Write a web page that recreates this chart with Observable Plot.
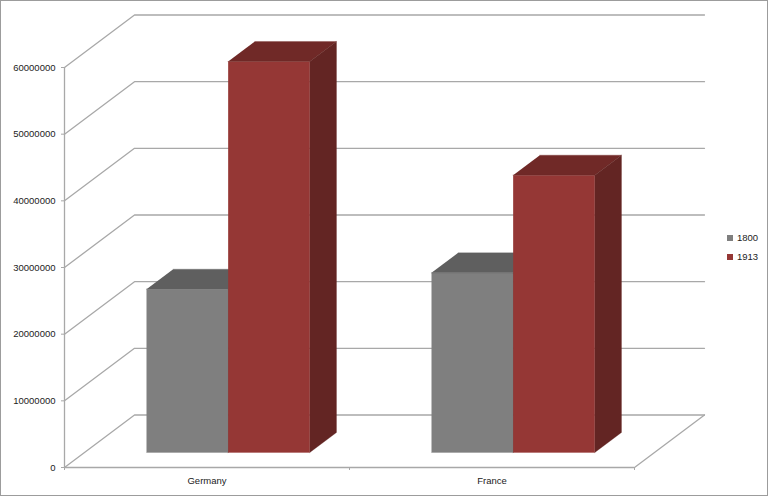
<!DOCTYPE html>
<html>
<head>
<meta charset="utf-8">
<script src="https://cdn.jsdelivr.net/npm/d3@7"></script>
<script src="https://cdn.jsdelivr.net/npm/@observablehq/plot@0.6"></script>
<style>
  html, body { margin: 0; padding: 0; background: #fff; }
  #wrap { position: relative; width: 768px; height: 496px; overflow: hidden; }
  #wrap svg { display: block; position: absolute; left: 0; top: 0; }
  #border { position: absolute; inset: 0; border: 1px solid #9c9c9c; border-left-width: 1.5px; box-sizing: border-box; pointer-events: none; }
  #legend { position: absolute; left: 727px; top: 228px; font: 9.5px "Liberation Sans", sans-serif; color: #222; }
  #legend div { display: flex; align-items: center; height: 19px; line-height: 14px; }
  #legend i { display: inline-block; width: 6px; height: 6px; margin-right: 4px; }
</style>
</head>
<body>
<div id="wrap"><div id="border"></div><div id="legend"></div></div>
<script>
const categories = ["Germany", "France"];
const seriesNames = ["1800", "1913"];
const values1800 = [24500000, 26950000];
const values1913 = [58650000, 41600000];
const yTicks = [0, 10000000, 20000000, 30000000, 40000000, 50000000, 60000000];
const frontColors = ["#7f7f7f", "#953735"];
const topColors = ["#5f5f5f", "#702927"];
const sideColors = ["#4f4f4f", "#632523"];

// oblique projection, expressed in data units of the two scales
const depthX = 0.2456, depthY = 7875000;
const project = (u, v, d) => ({x: u + d * depthX, y: v + d * depthY});
const gapFrac = 0.2175, barFrac = 0.2865, depthFront = 0.286, depthBack = 0.667;

const walls = [];
yTicks.forEach((t, i) => {
  walls.push({k: "w" + i, ...project(0, t, 0)}, {k: "w" + i, ...project(0, t, 1)}, {k: "w" + i, ...project(2, t, 1)});
});
walls.push({k: "f", ...project(2, 0, 0)}, {k: "f", ...project(2, 0, 1)});

const polys = [];
let pid = 0;
const addPoly = (pts, fill) => { const k = pid++; pts.forEach(p => polys.push({k, fill, ...p})); };
[values1800, values1913].forEach((vals, s) => {
  vals.forEach((v, c) => {
    const u0 = c + gapFrac + s * barFrac, u1 = u0 + barFrac;
    const a = depthFront, b = depthBack;
    addPoly([project(u0, 0, a), project(u1, 0, a), project(u1, v, a), project(u0, v, a)], frontColors[s]);
    addPoly([project(u0, v, a), project(u1, v, a), project(u1, v, b), project(u0, v, b)], topColors[s]);
    addPoly([project(u1, 0, a), project(u1, 0, b), project(u1, v, b), project(u1, v, a)], sideColors[s]);
  });
});

const gridColor = "#a8a8a8";
const font = "Liberation Sans";
const chart = Plot.plot({
  width: 768, height: 496,
  marginLeft: 64, marginRight: 134, marginTop: 67, marginBottom: 29,
  style: {background: "transparent", fontFamily: font, fontSize: "9.5px", color: "#222", overflow: "visible"},
  x: {domain: [0, 2]},
  y: {domain: [0, 60000000]},
  marks: [
    Plot.line(walls, {x: "x", y: "y", z: "k", stroke: gridColor, strokeWidth: 1.3}),
    Plot.ruleX([0], {y1: 0, y2: 60000000, stroke: gridColor, strokeWidth: 1.3}),
    Plot.ruleY([0], {x1: 0, x2: 2, stroke: gridColor, strokeWidth: 1.3}),
    Plot.axisY({ticks: yTicks, tickFormat: d => String(d), tickSize: 3, tickPadding: 6, stroke: gridColor, label: null, fontSize: 9.5, fill: "#222"}),
    Plot.axisX({ticks: [0, 1, 2], tickFormat: () => "", tickSize: 3, stroke: gridColor, label: null}),
    Plot.line(polys, {x: "x", y: "y", z: "k", fill: "fill", stroke: "fill", strokeWidth: 0.3}),
    Plot.text(categories, {x: (d, i) => i + 0.5, y: 0, dy: 13, text: d => d, fontSize: 9.5, fill: "#222", frameAnchor: "middle"})
  ]
});
document.getElementById("wrap").prepend(chart);
const legend = document.getElementById("legend");
seriesNames.forEach((n, i) => {
  const row = document.createElement("div");
  row.innerHTML = `<i style="background:${frontColors[i]}"></i><span>${n}</span>`;
  legend.appendChild(row);
});
</script>
</body>
</html>
